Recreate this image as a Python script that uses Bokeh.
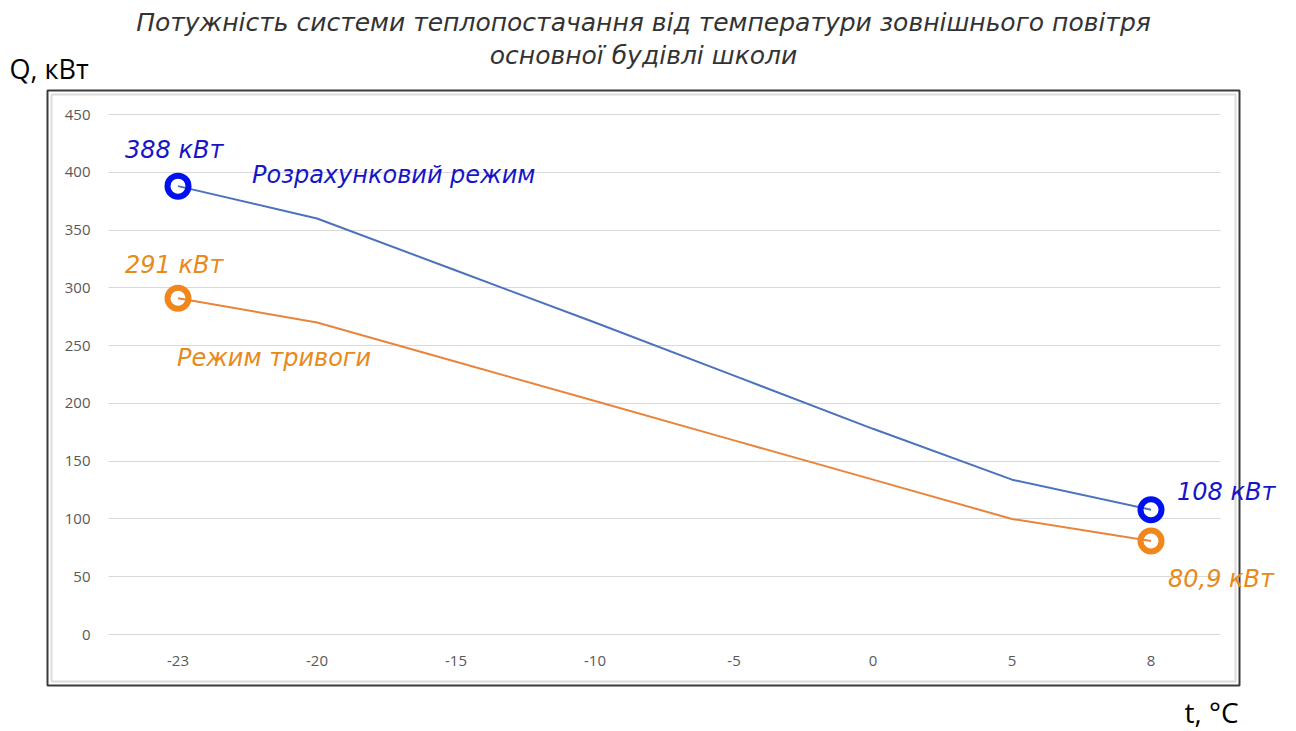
from bokeh.plotting import figure
from bokeh.models import Range1d, Label, LabelSet, ColumnDataSource, BoxAnnotation, FixedTicker
from bokeh.embed import file_html
from bokeh.resources import INLINE
from bokeh.core.properties import value

# ---- data ----
temps = ["-23", "-20", "-15", "-10", "-5", "0", "5", "8"]
q_design = [388, 360, 315, 270, 224, 178, 134, 108]
q_alarm = [291, 270, 236, 202, 168, 134, 100, 80.9]
y_ticks = [0, 50, 100, 150, 200, 250, 300, 350, 400, 450]
design_name = "Розрахунковий режим"
alarm_name = "Режим тривоги"
title_line1 = "Потужність системи теплопостачання від температури зовнішнього повітря"
title_line2 = "основної будівлі школи"
y_title = "Q, кВт"
x_title = "t, °C"

n = len(temps)
xs = list(range(n))

# ---- layout (pixels of the data area inside the canvas) ----
W, H = 1292, 729
GL, GR, GT, GB = 108, 1220, 114, 634
y_max = y_ticks[-1]
sx = (GR - GL) / n
sy = (GB - GT) / y_max

p = figure(width=W, height=H,
           x_range=Range1d(-0.5 - GL / sx, n - 0.5 + (W - GR) / sx),
           y_range=Range1d(-(H - GB) / sy, y_max + GT / sy),
           output_backend="svg", toolbar_location=None,
           min_border_left=0, min_border_right=0, min_border_top=0, min_border_bottom=0)
p.title.visible = False
p.outline_line_color = None
p.background_fill_color = "white"
p.border_fill_color = "white"
p.xaxis.visible = False
p.yaxis.visible = False
p.xgrid.grid_line_color = None
p.ygrid.ticker = FixedTicker(ticks=y_ticks)
p.ygrid.grid_line_color = "#d9d9d9"
p.ygrid.grid_line_width = 1
p.ygrid.cross_bounds = (-0.5, n - 0.5)

# chart-area frame (outer dark line + light inner line)
p.add_layout(BoxAnnotation(left=47, right=1239, top=90, bottom=685,
                           left_units="canvas", right_units="canvas",
                           top_units="canvas", bottom_units="canvas",
                           fill_color=None, line_color="#3a3a3a", line_alpha=1.0, line_width=2))
p.add_layout(BoxAnnotation(left=51, right=1235, top=94, bottom=681,
                           left_units="canvas", right_units="canvas",
                           top_units="canvas", bottom_units="canvas",
                           fill_color=None, line_color="#dcdcdc", line_alpha=1.0, line_width=2))

tick_font = value("Open Sans")
p.text(x=[-0.5] * len(y_ticks), y=y_ticks, text=[str(v) for v in y_ticks], x_offset=-18,
       text_align="right", text_baseline="middle", text_font=tick_font,
       text_font_size="15px", text_color="#595959")
p.text(x=xs, y=[0] * n, text=temps, y_offset=26,
       text_align="center", text_baseline="middle", text_font=tick_font,
       text_font_size="15px", text_color="#595959")

p.line(xs, q_design, line_color="#4a72bd", line_width=2)
p.line(xs, q_alarm, line_color="#e8843c", line_width=2)

ends = [0, n - 1]
p.scatter([xs[i] for i in ends], [q_design[i] for i in ends], size=21,
          fill_color=None, line_color="#0010ee", line_width=6)
p.scatter([xs[i] for i in ends], [q_alarm[i] for i in ends], size=21,
          fill_color=None, line_color="#f0861c", line_width=6)

def fmt(v):
    s = ("%g" % v).replace(".", ",")
    return s + " кВт"

lab_font = "DejaVu Sans"
blue_txt = "#1616c8"
orange_txt = "#e8891a"

src = ColumnDataSource(dict(
    x=[xs[0], xs[-1], xs[0], xs[-1], xs[0], xs[0]],
    y=[q_design[0], q_design[-1], q_alarm[0], q_alarm[-1], q_design[0], q_alarm[0]],
    t=[fmt(q_design[0]), fmt(q_design[-1]), fmt(q_alarm[0]), fmt(q_alarm[-1]),
       design_name, alarm_name],
    xo=[-53, 26, -53, 17, 74, -1],
    yo=[36, 18, 33, -38, 11, -60],
    c=[blue_txt, blue_txt, orange_txt, orange_txt, blue_txt, orange_txt],
))
p.add_layout(LabelSet(x="x", y="y", text="t", source=src, x_offset="xo", y_offset="yo",
                      text_color="c", text_font=value(lab_font), text_font_style="italic",
                      text_font_size="24px", text_baseline="middle"))

for t, cx, cy, al, font, style, size, col in [
    (title_line1, 643, 22, "center", lab_font, "italic", "25px", "#333333"),
    (title_line2, 643, 55, "center", lab_font, "italic", "25px", "#333333"),
    (y_title, 9, 68, "left", "Open Sans", "normal", "27px", "#000000"),
    (x_title, 1184, 711, "left", "Open Sans", "normal", "28px", "#000000"),
]:
    p.add_layout(Label(x=cx, y=cy, x_units="canvas", y_units="canvas", text=t,
                       text_align=al, text_baseline="middle", text_color=col,
                       text_font=font, text_font_style=style, text_font_size=size))

open("out.html", "w").write(file_html(p, INLINE))
